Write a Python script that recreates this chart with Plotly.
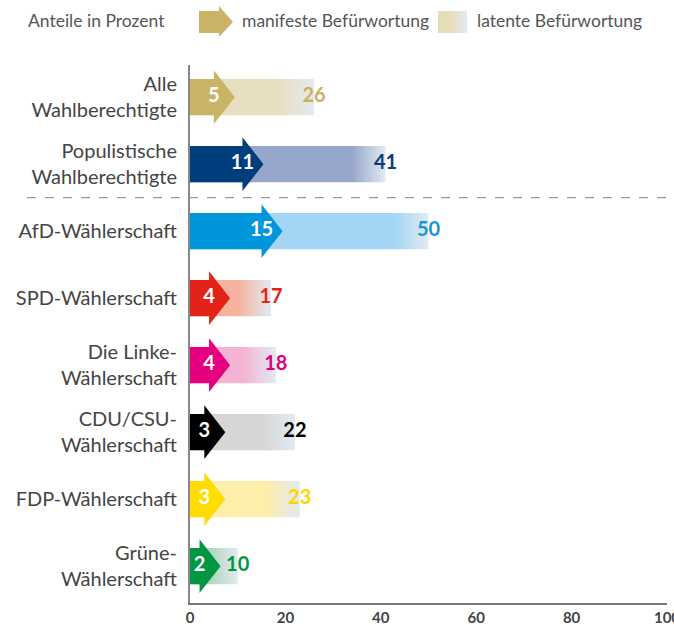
import plotly.graph_objects as go

categories = ["Alle<br>Wahlberechtigte", "Populistische<br>Wahlberechtigte", "AfD-Wählerschaft",
              "SPD-Wählerschaft", "Die Linke-<br>Wählerschaft", "CDU/CSU-<br>Wählerschaft",
              "FDP-Wählerschaft", "Grüne-<br>Wählerschaft"]
manifest = [5, 11, 15, 4, 4, 3, 3, 2]
latent = [26, 41, 50, 17, 18, 22, 23, 10]
x_ticks = [0, 20, 40, 60, 80, 100]

strong_colors = ["#c9b365", "#003d7c", "#0096db", "#e2231a", "#e6007e", "#000000", "#ffdd00", "#009642"]
light_colors = ["#e8dfc0", "#97a7cb", "#a3d6f4", "#f5b29e", "#f4b3d3", "#d6d6d6", "#fdeeaa", "#a5d1b3"]
label_colors = ["#c9b063", "#0d3b78", "#1a96d8", "#e3261b", "#e5007d", "#000000", "#ffd500", "#009640"]
fade_end = "#e2eaf1"

FONT = "Lato"
h = 0.27      # bar half height (row units)
H = 0.40      # arrow head half height
d = 4.4       # arrow head length (x units)
fade_len = 7  # length of gradient fade (x units)

fig = go.Figure()
ys = list(range(len(categories)))

# latent bars with gradient fade
for i, v in enumerate(latent):
    f = max(0.01, (v - fade_len) / v)
    fig.add_trace(go.Scatter(
        x=[0, v, v, 0, 0], y=[i - h, i - h, i + h, i + h, i - h],
        mode="lines", fill="toself", line=dict(width=0, color="rgba(0,0,0,0)"),
        fillgradient=dict(type="horizontal", start=0, stop=v,
                          colorscale=[[0, light_colors[i]], [f, light_colors[i]], [1, fade_end]]),
        hoverinfo="skip", showlegend=False))

# manifest arrows
for i, m in enumerate(manifest):
    fig.add_trace(go.Scatter(
        x=[0, m, m, m + d, m, m, 0, 0],
        y=[i - h, i - h, i - H, i, i + H, i + h, i + h, i - h],
        mode="lines", fill="toself", fillcolor=strong_colors[i],
        line=dict(width=0, color="rgba(0,0,0,0)"),
        hoverinfo="skip", showlegend=False))

# labels
fig.add_trace(go.Scatter(
    x=manifest, y=ys, mode="text", text=[str(v) for v in manifest],
    textfont=dict(family=FONT, size=20, color="white", weight="bold"),
    textposition="middle center", hoverinfo="skip", showlegend=False))
fig.add_trace(go.Scatter(
    x=latent, y=ys, mode="text", text=[str(v) for v in latent],
    textfont=dict(family=FONT, size=20, color=label_colors, weight="bold"),
    textposition="middle center", hoverinfo="skip", showlegend=False, cliponaxis=False))

# plot geometry helpers (pixels -> paper)
L, R, T, B = 190, 7, 65, 22
W, HH = 674, 625
pw, ph = W - L - R, HH - T - B
def px(x):
    return (x - L) / pw
def py(y):
    return (HH - B - y) / ph

shapes = []
# dashed separator
shapes.append(dict(type="line", xref="paper", yref="y", x0=px(27), x1=1.0, y0=1.5, y1=1.5,
                   line=dict(color="#9a9a9a", width=1.3, dash="dash")))
# legend arrow icon
ax0, ax1, ax2 = 199, 219, 233
ay_c = 22
path = "M {0},{1} L {2},{1} L {2},{3} L {4},{5} L {2},{6} L {2},{7} L {0},{7} Z".format(
    px(ax0), py(ay_c - 11), px(ax1), py(ay_c - 16), px(ax2), py(ay_c), py(ay_c + 15), py(ay_c + 11))
shapes.append(dict(type="path", xref="paper", yref="paper", path=path,
                   fillcolor="#c9b365", line=dict(width=0)))
# legend gradient swatch
def hex2rgb(c):
    c = c.lstrip("#")
    return tuple(int(c[k:k + 2], 16) for k in (0, 2, 4))
c0, c1 = hex2rgb("#e6dcb8"), hex2rgb(fade_end)
sx0, sx1, sy0, sy1 = 438, 467, 11, 33
n = 18
for k in range(n):
    t = k / (n - 1)
    t2 = max(0.0, (t - 0.4) / 0.6)
    col = "rgb({},{},{})".format(*[round(a + (b - a) * t2) for a, b in zip(c0, c1)])
    xa = sx0 + (sx1 - sx0) * k / n
    xb = sx0 + (sx1 - sx0) * (k + 1) / n + 0.5
    shapes.append(dict(type="rect", xref="paper", yref="paper", x0=px(xa), x1=px(min(xb, sx1)),
                       y0=py(sy1), y1=py(sy0), fillcolor=col, line=dict(width=0)))

leg_font = dict(family=FONT, size=17.5, color="#555555")
annotations = [
    dict(text="Anteile in Prozent", xref="paper", yref="paper", x=px(26), y=py(21),
         xanchor="left", yanchor="middle", showarrow=False, font=leg_font),
    dict(text="manifeste Befürwortung", xref="paper", yref="paper", x=px(240), y=py(21),
         xanchor="left", yanchor="middle", showarrow=False, font=leg_font),
    dict(text="latente Befürwortung", xref="paper", yref="paper", x=px(475), y=py(21),
         xanchor="left", yanchor="middle", showarrow=False, font=leg_font),
]

fig.update_layout(
    width=W, height=HH, margin=dict(l=L, r=R, t=T, b=B, autoexpand=False),
    plot_bgcolor="white", paper_bgcolor="white",
    shapes=shapes, annotations=annotations, showlegend=False,
    xaxis=dict(range=[0, 100], tickvals=x_ticks, showgrid=False, zeroline=False,
               showline=True, linecolor="#777777", linewidth=1.5, ticks="",
               automargin=False, ticklabeloverflow="allow",
               tickfont=dict(family=FONT, size=15, color="#444444", weight="bold"),
               fixedrange=True),
    yaxis=dict(range=[7.55, -0.48], tickvals=ys, ticktext=categories, showgrid=False,
               zeroline=False, showline=True, linecolor="#888888", linewidth=2,
               ticks="", ticklabelstandoff=7, automargin=False,
               tickfont=dict(family=FONT, size=20, color="#444444"), fixedrange=True),
)

fig.write_html("out.html", config={"displayModeBar": False},
               post_script="document.body.style.margin='0px';document.body.style.overflow='hidden';")
